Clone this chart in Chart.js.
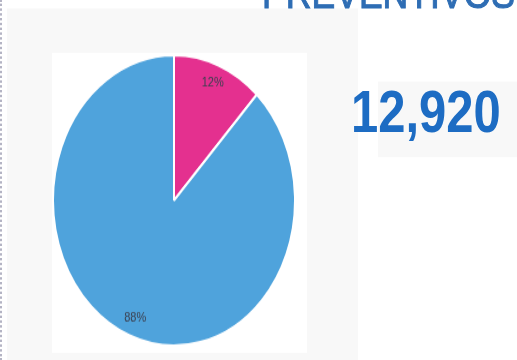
<!DOCTYPE html>
<html>
<head>
<meta charset="utf-8">
<script src="https://cdn.jsdelivr.net/npm/chart.js@4/dist/chart.umd.min.js"></script>
<style>
  html, body { margin: 0; padding: 0; background: #ffffff; overflow: hidden; }
  body { width: 517px; height: 360px; position: relative; }
  /* todo el cuadro esta estirado en vertical, como en la captura */
  #lienzo { position: absolute; left: 0; top: 0; width: 517px; height: 300px;
            transform: scale(1, 1.2); transform-origin: 0 0; }
  #borde { position: absolute; left: 0; top: 0; width: 0; height: 300px;
           border-left: 2px dotted #b4b4c4; }
  #panel { position: absolute; left: 7px; top: 7px; width: 351px; height: 300px; background: #f8f8f8; }
  #caja { position: absolute; left: 52px; top: 44px; width: 255px; height: 250px; background: #ffffff; }
  #cajaNum { position: absolute; left: 378px; top: 68px; width: 139px; height: 63px; background: #f8f8f8; }
  #titulo { position: absolute; left: 262px; top: -25px; font: 35.6px "Liberation Sans", Arial, sans-serif;
            color: #2e6db4; white-space: nowrap; line-height: 40px; -webkit-text-stroke: 0.9px #2e6db4; }
  #total { position: absolute; left: 351px; top: 66px; font: bold 49px "Liberation Sans", Arial, sans-serif;
           color: #1d6cc3; white-space: nowrap; line-height: 54px; }
  #torta { position: absolute; left: 52px; top: 45px; }
</style>
</head>
<body>
<div id="lienzo">
  <div id="panel"></div>
  <div id="caja"></div>
  <div id="cajaNum"></div>
  <div id="borde"></div>
  <div id="titulo"></div>
  <div id="total"></div>
  <canvas id="torta" width="244" height="244"></canvas>
</div>
<script>
// DATOS
var tituloTexto = 'PREVENTIVOS';
var totalTexto = '12,920';
var categorias = ['Preventivos', 'Otros'];
var porcentajes = [12, 88];
var colores = ['#e4308f', '#4fa3dc'];

document.getElementById('titulo').textContent = tituloTexto;
document.getElementById('total').textContent = totalTexto;

// etiquetas de porcentaje dentro de cada rebanada
var etiquetasPlugin = {
  id: 'etiquetas',
  afterDatasetsDraw: function (chart) {
    var ctx = chart.ctx;
    var meta = chart.getDatasetMeta(0);
    var datos = chart.data.datasets[0].data;
    var suma = datos.reduce(function (a, b) { return a + b; }, 0);
    ctx.save();
    ctx.font = '11px "Liberation Sans", Arial, sans-serif';
    ctx.fillStyle = '#3c4050';
    ctx.textAlign = 'center';
    ctx.textBaseline = 'middle';
    meta.data.forEach(function (arco, i) {
      var p = arco.getProps(['x', 'y', 'startAngle', 'endAngle', 'outerRadius'], true);
      var medio = (p.startAngle + p.endAngle) / 2;
      var r = p.outerRadius * 0.87;
      var texto = Math.round(datos[i] / suma * 100) + '%';
      ctx.fillText(texto, p.x + Math.cos(medio) * r, p.y + Math.sin(medio) * r);
    });
    ctx.restore();
  }
};

var ctx = document.getElementById('torta');
var grafico = new Chart(ctx, {
  type: 'pie',
  data: {
    labels: categorias,
    datasets: [{
      data: porcentajes,
      backgroundColor: colores,
      borderColor: '#ffffff',
      borderWidth: 2,
      hoverOffset: 0
    }]
  },
  options: {
    responsive: false,
    animation: false,
    layout: { padding: 0 },
    plugins: {
      legend: { display: false },
      tooltip: { enabled: false },
      title: { display: false }
    }
  },
  plugins: [etiquetasPlugin]
});
</script>
</body>
</html>
